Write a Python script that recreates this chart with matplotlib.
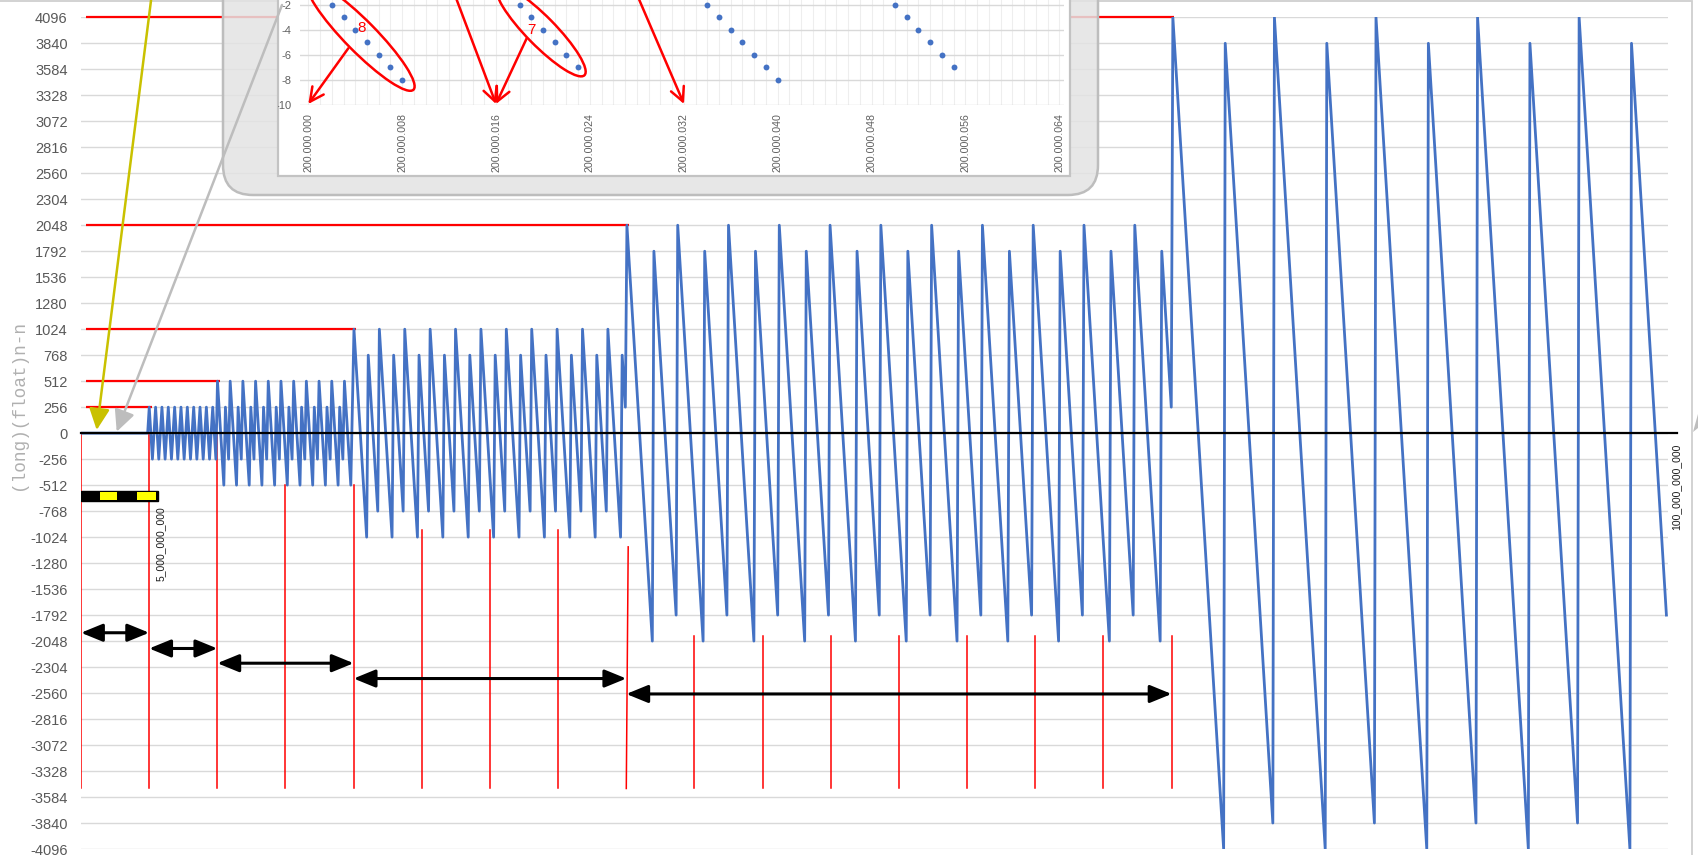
import numpy as np
import matplotlib
matplotlib.use("Agg")
import matplotlib.pyplot as plt
from matplotlib.patches import Rectangle, FancyBboxPatch, Ellipse, FancyArrowPatch, Polygon
from matplotlib.transforms import Affine2D
from matplotlib.ticker import MultipleLocator

plt.rcParams['font.family'] = ['Liberation Sans', 'DejaVu Sans']

# ---------------- data: (long)(float)n - n, sampled every 100_000_000 ----------------
sample_step = 100_000_000

err_exact = [
    0, 0, 0, 0, 0, 0, 0, 0, 0, 0,
    0, 0, 0, 0, 0, 0, 0, 0, 0, 0,
    0, 0, 0, 0, 0, 0, 0, 0, 0, 0,
    0, 0, 0, 0, 0, 0, 0, 0, 0, 0,
    0, 0, 0,
]

err_ulp512 = [
    256, 0, -256, 0,
    256, 0, -256, 0,
    256, 0, -256, 0,
    256, 0, -256, 0,
    256, 0, -256, 0,
    256, 0, -256, 0,
    256, 0, -256, 0,
    256, 0, -256, 0,
    256, 0, -256, 0,
    256, 0, -256, 0,
    256, 0, -256,
]

err_ulp1024 = [
    512, 256, 0, -256, -512, 256, 0, -256,
    512, 256, 0, -256, -512, 256, 0, -256,
    512, 256, 0, -256, -512, 256, 0, -256,
    512, 256, 0, -256, -512, 256, 0, -256,
    512, 256, 0, -256, -512, 256, 0, -256,
    512, 256, 0, -256, -512, 256, 0, -256,
    512, 256, 0, -256, -512, 256, 0, -256,
    512, 256, 0, -256, -512, 256, 0, -256,
    512, 256, 0, -256, -512, 256, 0, -256,
    512, 256, 0, -256, -512, 256, 0, -256,
    512, 256, 0, -256, -512, 256,
]

err_ulp2048 = [
    1024, 768, 512, 256, 0, -256, -512, -768, -1024, 768, 512, 256, 0, -256, -512, -768,
    1024, 768, 512, 256, 0, -256, -512, -768, -1024, 768, 512, 256, 0, -256, -512, -768,
    1024, 768, 512, 256, 0, -256, -512, -768, -1024, 768, 512, 256, 0, -256, -512, -768,
    1024, 768, 512, 256, 0, -256, -512, -768, -1024, 768, 512, 256, 0, -256, -512, -768,
    1024, 768, 512, 256, 0, -256, -512, -768, -1024, 768, 512, 256, 0, -256, -512, -768,
    1024, 768, 512, 256, 0, -256, -512, -768, -1024, 768, 512, 256, 0, -256, -512, -768,
    1024, 768, 512, 256, 0, -256, -512, -768, -1024, 768, 512, 256, 0, -256, -512, -768,
    1024, 768, 512, 256, 0, -256, -512, -768, -1024, 768, 512, 256, 0, -256, -512, -768,
    1024, 768, 512, 256, 0, -256, -512, -768, -1024, 768, 512, 256, 0, -256, -512, -768,
    1024, 768, 512, 256, 0, -256, -512, -768, -1024, 768, 512, 256, 0, -256, -512, -768,
    1024, 768, 512, 256, 0, -256, -512, -768, -1024, 768, 512, 256,
]

err_ulp4096 = [
    2048, 1792, 1536, 1280, 1024, 768, 512, 256, 0, -256, -512, -768, -1024, -1280, -1536, -1792, -2048, 1792, 1536, 1280, 1024, 768, 512, 256, 0, -256, -512, -768, -1024, -1280, -1536, -1792,
    2048, 1792, 1536, 1280, 1024, 768, 512, 256, 0, -256, -512, -768, -1024, -1280, -1536, -1792, -2048, 1792, 1536, 1280, 1024, 768, 512, 256, 0, -256, -512, -768, -1024, -1280, -1536, -1792,
    2048, 1792, 1536, 1280, 1024, 768, 512, 256, 0, -256, -512, -768, -1024, -1280, -1536, -1792, -2048, 1792, 1536, 1280, 1024, 768, 512, 256, 0, -256, -512, -768, -1024, -1280, -1536, -1792,
    2048, 1792, 1536, 1280, 1024, 768, 512, 256, 0, -256, -512, -768, -1024, -1280, -1536, -1792, -2048, 1792, 1536, 1280, 1024, 768, 512, 256, 0, -256, -512, -768, -1024, -1280, -1536, -1792,
    2048, 1792, 1536, 1280, 1024, 768, 512, 256, 0, -256, -512, -768, -1024, -1280, -1536, -1792, -2048, 1792, 1536, 1280, 1024, 768, 512, 256, 0, -256, -512, -768, -1024, -1280, -1536, -1792,
    2048, 1792, 1536, 1280, 1024, 768, 512, 256, 0, -256, -512, -768, -1024, -1280, -1536, -1792, -2048, 1792, 1536, 1280, 1024, 768, 512, 256, 0, -256, -512, -768, -1024, -1280, -1536, -1792,
    2048, 1792, 1536, 1280, 1024, 768, 512, 256, 0, -256, -512, -768, -1024, -1280, -1536, -1792, -2048, 1792, 1536, 1280, 1024, 768, 512, 256, 0, -256, -512, -768, -1024, -1280, -1536, -1792,
    2048, 1792, 1536, 1280, 1024, 768, 512, 256, 0, -256, -512, -768, -1024, -1280, -1536, -1792, -2048, 1792, 1536, 1280, 1024, 768, 512, 256, 0, -256, -512, -768, -1024, -1280, -1536, -1792,
    2048, 1792, 1536, 1280, 1024, 768, 512, 256, 0, -256, -512, -768, -1024, -1280, -1536, -1792, -2048, 1792, 1536, 1280, 1024, 768, 512, 256, 0, -256, -512, -768, -1024, -1280, -1536, -1792,
    2048, 1792, 1536, 1280, 1024, 768, 512, 256, 0, -256, -512, -768, -1024, -1280, -1536, -1792, -2048, 1792, 1536, 1280, 1024, 768, 512, 256, 0, -256, -512, -768, -1024, -1280, -1536, -1792,
    2048, 1792, 1536, 1280, 1024, 768, 512, 256, 0, -256, -512, -768, -1024, -1280, -1536, -1792, -2048, 1792, 1536, 1280, 1024, 768, 512, 256,
]

err_ulp8192 = [
    4096, 3840, 3584, 3328, 3072, 2816, 2560, 2304, 2048, 1792, 1536, 1280, 1024, 768, 512, 256, 0, -256, -512, -768, -1024, -1280, -1536, -1792, -2048, -2304, -2560, -2816, -3072, -3328, -3584, -3840,
    -4096, 3840, 3584, 3328, 3072, 2816, 2560, 2304, 2048, 1792, 1536, 1280, 1024, 768, 512, 256, 0, -256, -512, -768, -1024, -1280, -1536, -1792, -2048, -2304, -2560, -2816, -3072, -3328, -3584, -3840,
    4096, 3840, 3584, 3328, 3072, 2816, 2560, 2304, 2048, 1792, 1536, 1280, 1024, 768, 512, 256, 0, -256, -512, -768, -1024, -1280, -1536, -1792, -2048, -2304, -2560, -2816, -3072, -3328, -3584, -3840,
    -4096, 3840, 3584, 3328, 3072, 2816, 2560, 2304, 2048, 1792, 1536, 1280, 1024, 768, 512, 256, 0, -256, -512, -768, -1024, -1280, -1536, -1792, -2048, -2304, -2560, -2816, -3072, -3328, -3584, -3840,
    4096, 3840, 3584, 3328, 3072, 2816, 2560, 2304, 2048, 1792, 1536, 1280, 1024, 768, 512, 256, 0, -256, -512, -768, -1024, -1280, -1536, -1792, -2048, -2304, -2560, -2816, -3072, -3328, -3584, -3840,
    -4096, 3840, 3584, 3328, 3072, 2816, 2560, 2304, 2048, 1792, 1536, 1280, 1024, 768, 512, 256, 0, -256, -512, -768, -1024, -1280, -1536, -1792, -2048, -2304, -2560, -2816, -3072, -3328, -3584, -3840,
    4096, 3840, 3584, 3328, 3072, 2816, 2560, 2304, 2048, 1792, 1536, 1280, 1024, 768, 512, 256, 0, -256, -512, -768, -1024, -1280, -1536, -1792, -2048, -2304, -2560, -2816, -3072, -3328, -3584, -3840,
    -4096, 3840, 3584, 3328, 3072, 2816, 2560, 2304, 2048, 1792, 1536, 1280, 1024, 768, 512, 256, 0, -256, -512, -768, -1024, -1280, -1536, -1792, -2048, -2304, -2560, -2816, -3072, -3328, -3584, -3840,
    4096, 3840, 3584, 3328, 3072, 2816, 2560, 2304, 2048, 1792, 1536, 1280, 1024, 768, 512, 256, 0, -256, -512, -768, -1024, -1280, -1536, -1792, -2048, -2304, -2560, -2816, -3072, -3328, -3584, -3840,
    -4096, 3840, 3584, 3328, 3072, 2816, 2560, 2304, 2048, 1792, 1536, 1280, 1024, 768, 512, 256, 0, -256, -512, -768, -1024, -1280, -1536, -1792,
]

assert len(err_exact) == 43
assert len(err_ulp512) == 43
assert len(err_ulp1024) == 86
assert len(err_ulp2048) == 172
assert len(err_ulp4096) == 344
assert len(err_ulp8192) == 312

err_values = err_exact + err_ulp512 + err_ulp1024 + err_ulp2048 + err_ulp4096 + err_ulp8192
n_values = np.arange(len(err_values)) * sample_step

y_ticks = list(range(-4096, 4097, 256))
ulp_bounds = [2**32, 2**33, 2**34, 2**35, 2**36]
half_ulp_levels = [256, 512, 1024, 2048, 4096]

# inset: float rounding error just above 200,000,000
inset_base = 200_000_000
inset_offsets = [
    0, 1, 2, 3, 4, 5, 6, 7, 8, 9, 10, 11, 12, 13, 14, 15,
    16, 17, 18, 19, 20, 21, 22, 23, 24, 25, 26, 27, 28, 29, 30, 31,
    32, 33, 34, 35, 36, 37, 38, 39, 40, 41, 42, 43, 44, 45, 46, 47,
    48, 49, 50, 51, 52, 53, 54, 55, 56, 57, 58, 59, 60, 61, 62, 63,
]
inset_err = [
    0, -1, -2, -3, -4, -5, -6, -7, -8, 7, 6, 5, 4, 3, 2, 1,
    0, -1, -2, -3, -4, -5, -6, -7, 8, 7, 6, 5, 4, 3, 2, 1,
    0, -1, -2, -3, -4, -5, -6, -7, -8, 7, 6, 5, 4, 3, 2, 1,
    0, -1, -2, -3, -4, -5, -6, -7, 8, 7, 6, 5, 4, 3, 2, 1,
]
inset_ticks = [0, 8, 16, 24, 32, 40, 48, 56, 64]
inset_yticks = [-10, -8, -6, -4, -2]

# ---------------- figure ----------------
W, H = 1698, 855
fig = plt.figure(figsize=(W / 100, H / 100), dpi=100)
PX = Affine2D().scale(1.0 / W, -1.0 / H).translate(0, 1) + fig.transFigure

L, R, T, B = 81, 1668, 17.3, 849
ax = fig.add_axes([L / W, 1 - B / H, (R - L) / W, (B - T) / H])
ax.set_xlim(0, 1.0e11)
ax.set_ylim(-4096, 4096)
for s in ax.spines.values():
    s.set_visible(False)
ax.set_xticks([])
ax.set_yticks(y_ticks)
ax.set_yticklabels([str(v) for v in y_ticks])
ax.tick_params(axis='y', length=0, pad=9.6, labelsize=10.5, labelcolor='#595959')
ax.set_axisbelow(True)
ax.yaxis.grid(True, color='#d9d9d9', lw=1.0)

# red horizontal half-ulp markers
for lvl, bnd in zip(half_ulp_levels, ulp_bounds):
    ax.plot([3e8, bnd + 1.5e8], [lvl, lvl], color='red', lw=1.6, zorder=2,
            clip_on=False, solid_capstyle='butt')

# red vertical lines at multiples of 2^32
tops = [0, 0, 0, -512, -512, -950, -950, -950, -1120,
        -2000, -2000, -2000, -2000, -2000, -2000, -2000, -2000]
for i, top in enumerate(tops):
    x = i * 2**32
    xt = x + (1.2e8 if i == 8 else 0)
    ax.plot([xt, x], [top, -3500], color='red', lw=1.1, zorder=2)

# main series
ax.plot(n_values, err_values, color='#4472c4', lw=2.0, zorder=3, solid_joinstyle='round')
ax.plot([0, 1.0057e11], [0, 0], color='black', lw=1.6, zorder=4, clip_on=False)

# double arrows between powers of two
arrow_levels = [-1966, -2121, -2266, -2417, -2569]
starts = [0] + ulp_bounds[:-1]
for x0, x1, yv in zip(starts, ulp_bounds, arrow_levels):
    ax.annotate('', xy=(x1, yv), xytext=(x0, yv),
                arrowprops=dict(arrowstyle='<|-|>,head_length=1.1,head_width=0.45',
                                color='black', lw=2.2, shrinkA=0, shrinkB=0,
                                mutation_scale=12), zorder=5)

# yellow/black bar
ax.add_patch(Rectangle((0, -668), 4.83e9, 98, fc='black', ec='black', lw=1, zorder=5))
for x0, x1 in [(1.2e9, 2.29e9), (3.55e9, 4.73e9)]:
    ax.add_patch(Rectangle((x0, -656), x1 - x0, 74, fc='#ffff00', ec='none', zorder=6))

ax.text(5e9, -720, '5_000_000_000', rotation=90, ha='center', va='top',
        fontsize=7.5, color='#1a1a1a', zorder=6)
ax.text(1.005e11, -100, '100_000_000_000', rotation=90, ha='center', va='top',
        fontsize=7.5, color='#1a1a1a', clip_on=False)

fig.text(18.5 / W, 1 - 405 / H, '(long)(float)n-n', rotation=90, ha='center', va='center',
         family=['Liberation Mono', 'DejaVu Sans Mono'], fontsize=12.8, color='#b0b0b0')

# chart frame
fig.add_artist(Rectangle((-5, 1), 1697, 900, transform=PX, fill=False,
                         ec='#cfcfcf', lw=1.3, zorder=1))

# ---------------- inset picture ----------------
box = FancyBboxPatch((223, -80), 1098 - 223, 195 + 80,
                     boxstyle='round,pad=0,rounding_size=30', transform=PX,
                     fc=(0.89, 0.89, 0.89, 0.85), ec='#bdbdbd', lw=1.8, zorder=5)
fig.add_artist(box)
panel = Rectangle((278, -80), 1070 - 278, 176 + 80, transform=PX,
                  fc='white', ec='#c3c3c3', lw=1.6, zorder=6)
fig.add_artist(panel)

axin = fig.add_axes([300 / W, 1 - 105 / H, 764 / W, 150 / H])
axin.set_zorder(7)
axin.patch.set_alpha(0)
axin.set_xlim(inset_base - 0.71, inset_base + 64.4)
axin.set_ylim(-10, 2)
for s in axin.spines.values():
    s.set_visible(False)
axin.set_xticks([inset_base + t for t in inset_ticks])
axin.set_xticklabels([f"{inset_base + t:,}".replace(",", ".") for t in inset_ticks])
axin.set_yticks(inset_yticks)
axin.set_yticklabels([str(v) for v in inset_yticks])
axin.xaxis.set_minor_locator(MultipleLocator(1))
axin.grid(True, which='major', axis='y', color='#d9d9d9', lw=1.0)
axin.grid(True, which='both', axis='x', color='#eeeeee', lw=0.8)
axin.set_axisbelow(True)
axin.tick_params(axis='x', which='both', length=0, labelrotation=90, labelsize=7.7,
                 labelcolor='#606060', pad=5.5)
axin.tick_params(axis='y', length=0, labelsize=8, labelcolor='#606060', pad=6)
axin.scatter([inset_base + u for u in inset_offsets], inset_err, s=18,
             color='#4472c4', zorder=3, linewidths=0)
for lbl in axin.get_yticklabels():
    lbl.set_clip_path(panel)

# red annotations on the inset
def px_arrow(p0, p1, color, lw, style, ms, z=10):
    a = FancyArrowPatch(p0, p1, transform=PX, arrowstyle=style, color=color, lw=lw,
                        mutation_scale=ms, shrinkA=0, shrinkB=0, zorder=z)
    fig.add_artist(a)

red_style = '->,head_length=0.5,head_width=0.25'
px_arrow((348.3, 48.3), (308.3, 104), 'red', 1.8, red_style, 20)
px_arrow((453, -10), (496, 104), 'red', 1.8, red_style, 20)
px_arrow((526.7, 38.3), (496, 104), 'red', 1.8, red_style, 20)
px_arrow((635, -10), (684, 104), 'red', 1.8, red_style, 20)

fig.add_artist(Ellipse((360.8, 36.3), 150, 31, angle=45.4, transform=PX,
                       fill=False, ec='red', lw=1.8, zorder=10))
fig.add_artist(Ellipse((541, 31), 124, 29, angle=45.5, transform=PX,
                       fill=False, ec='red', lw=1.8, zorder=10))
fig.text(362, 28, '8', transform=PX, ha='center', va='center', color='red',
         fontsize=11, zorder=11)
fig.text(531.5, 30, '7', transform=PX, ha='center', va='center', color='red',
         fontsize=11, zorder=11)

# pointer arrows from the inset down to the origin
head_style = '-|>,head_length=1.0,head_width=0.48'
px_arrow((151.7, -5), (96.7, 430), '#c9c100', 1.8, head_style, 13, z=9)
px_arrow((282, 5), (116.7, 431.7), '#bdbdbd', 1.8, head_style, 13, z=9)

fig.add_artist(Polygon([(1693, 432), (1698, 414), (1698, 428)], closed=True,
                       transform=PX, fc='#bdbdbd', ec='none', zorder=9))

fig.savefig('out.png', dpi=100)
